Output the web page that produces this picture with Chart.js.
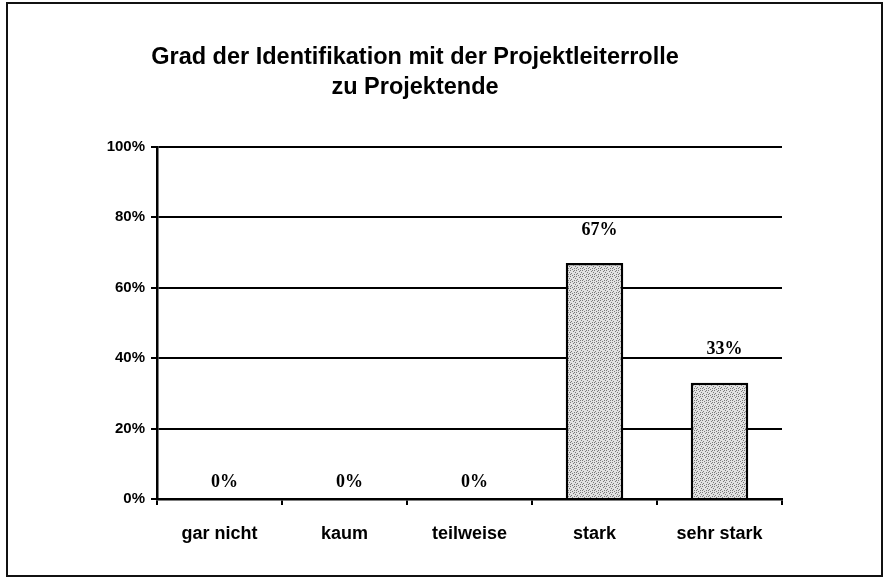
<!DOCTYPE html>
<html>
<head>
<meta charset="utf-8">
<script src="https://cdn.jsdelivr.net/npm/chart.js@4/dist/chart.umd.min.js"></script>
<style>
  html, body { margin: 0; padding: 0; background: #fff; }
  #wrap { position: relative; width: 885px; height: 579px; }
  #frame { position: absolute; left: 6px; top: 2px; width: 873px; height: 571px; border: 2px solid #111; }
  #c { position: absolute; left: 0; top: 0; }
</style>
</head>
<body>
<div id="wrap">
  <div id="frame"></div>
  <canvas id="c" width="885" height="579"></canvas>
</div>
<script>
// Daten
var titleLines = ['Grad der Identifikation mit der Projektleiterrolle', 'zu Projektende'];
var categories = ['gar nicht', 'kaum', 'teilweise', 'stark', 'sehr stark'];
var values = [0, 0, 0, 67, 33];
var yTicks = [0, 20, 40, 60, 80, 100];

// gepunktete Füllung wie im Scan
function makeStipple() {
    var p = document.createElement('canvas');
    p.width = 6; p.height = 6;
    var g = p.getContext('2d');
    g.fillStyle = '#e2e2e2';
    g.fillRect(0, 0, 6, 6);
    g.fillStyle = '#7a7a7a';
    var dots = [[0, 0], [3, 1], [1, 3], [4, 4], [5, 2], [2, 5], [4, 0], [0, 4]];
    dots.forEach(function (d) { g.fillRect(d[0], d[1], 1, 1); });
    return g.createPattern(p, 'repeat');
}

var ctx = document.getElementById('c').getContext('2d');

// Prozentwerte über den Balken
var valueLabels = {
    id: 'valueLabels',
    afterDatasetsDraw: function (chart) {
        var c = chart.ctx;
        var meta = chart.getDatasetMeta(0);
        c.save();
        c.font = 'bold 18px "Liberation Serif", "Times New Roman", serif';
        c.fillStyle = '#000';
        c.textAlign = 'center';
        c.textBaseline = 'middle';
        meta.data.forEach(function (bar, i) {
            var off = values[i] > 0 ? 33 : 17;
            c.fillText(values[i] + '%', bar.x + 5, bar.y - off);
        });
        c.restore();
    }
};

var chart = new Chart(ctx, {
    type: 'bar',
    data: {
        labels: categories,
        datasets: [{
            data: values,
            backgroundColor: makeStipple(),
            borderColor: '#000',
            borderWidth: 2.5,
            borderSkipped: 'start',
            categoryPercentage: 0.46,
            barPercentage: 1
        }]
    },
    options: {
        responsive: false,
        animation: false,
        layout: { padding: { left: 48, right: 103, top: 0, bottom: 0 } },
        plugins: {
            legend: { display: false },
            tooltip: { enabled: false },
            title: {
                display: true,
                text: titleLines,
                color: '#000',
                font: { family: '"Liberation Sans", Arial, sans-serif', size: 23.5, weight: 'bold', lineHeight: 1.25 },
                padding: { top: 43, bottom: 45 }
            }
        },
        scales: {
            x: {
                afterFit: function (scale) { scale.height = 80; },
                grid: { display: true, offset: true, drawOnChartArea: false, drawTicks: true, tickLength: 6, color: '#000', lineWidth: 2 },
                border: { display: true, color: '#000', width: 2.5 },
                ticks: {
                    color: '#000',
                    padding: 18,
                    font: { family: '"Liberation Sans", Arial, sans-serif', size: 18, weight: 'bold' }
                }
            },
            y: {
                min: 0,
                max: 100,
                afterFit: function (scale) { scale.width = 109; },
                afterBuildTicks: function (scale) {
                    scale.ticks = yTicks.map(function (v) { return { value: v }; });
                },
                grid: { color: '#000', lineWidth: 2, tickLength: 6 },
                border: { display: true, color: '#000', width: 2.5 },
                ticks: {
                    color: '#000',
                    padding: 6,
                    font: { family: '"Liberation Sans", Arial, sans-serif', size: 15, weight: 'bold' },
                    callback: function (v) { return v + '%'; }
                }
            }
        }
    },
    plugins: [valueLabels]
});
</script>
</body>
</html>
